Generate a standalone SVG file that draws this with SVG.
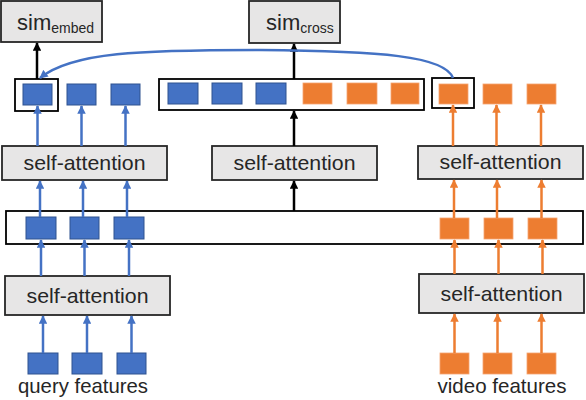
<svg xmlns="http://www.w3.org/2000/svg" width="586" height="400" viewBox="0 0 586 400">
<defs>
<style>
.gbox{fill:#E7E6E6;stroke:#262626;stroke-width:1.8}
.wbox{fill:#FFFFFF;stroke:#000000;stroke-width:1.8}
.bsq{fill:#4472C4;stroke:#2F528F;stroke-width:1}
.osq{fill:#ED7D31;stroke:#F4A470;stroke-width:0.8}
.lbl{font-family:"Liberation Sans",Arial,sans-serif;fill:#262626}
.bl{stroke:#4472C4;stroke-width:2.5;fill:none;marker-end:url(#ab)}
.ol{stroke:#ED7D31;stroke-width:2.5;fill:none;marker-end:url(#ao)}
.kl{stroke:#000000;stroke-width:2.5;fill:none;marker-end:url(#ak)}
</style>
<marker id="ab" viewBox="0 0 10 10" refX="9" refY="5" markerWidth="3.4" markerHeight="3.4" orient="auto" markerUnits="strokeWidth"><path d="M0,0 L10,5 L0,10 z" fill="#4472C4"/></marker>
<marker id="ao" viewBox="0 0 10 10" refX="9" refY="5" markerWidth="3.4" markerHeight="3.4" orient="auto" markerUnits="strokeWidth"><path d="M0,0 L10,5 L0,10 z" fill="#ED7D31"/></marker>
<marker id="ak" viewBox="0 0 10 10" refX="9" refY="5" markerWidth="3.4" markerHeight="3.4" orient="auto" markerUnits="strokeWidth"><path d="M0,0 L10,5 L0,10 z" fill="#000000"/></marker>
</defs>
<rect width="586" height="400" fill="#FFFFFF"/>

<g id="sim-embed">
<rect class="gbox" x="1" y="1" width="101" height="41"/>
<text class="lbl" x="17" y="30" font-size="22">sim<tspan font-size="14" dy="3">embed</tspan></text>
</g>
<g id="sim-cross">
<rect class="gbox" x="249" y="1" width="91" height="42"/>
<text class="lbl" x="266" y="30" font-size="22">sim<tspan font-size="14" dy="3">cross</tspan></text>
</g>

<g id="top-query">
<rect class="wbox" x="15" y="79" width="43" height="32"/>
<rect class="bsq" x="23" y="84" width="29" height="21"/>
<rect class="bsq" x="67" y="84" width="29" height="21"/>
<rect class="bsq" x="111" y="84" width="29" height="21"/>
</g>
<g id="top-cross">
<rect class="wbox" x="159" y="79" width="265" height="31"/>
<rect class="bsq" x="168" y="83" width="30" height="21"/>
<rect class="bsq" x="212" y="83" width="30" height="21"/>
<rect class="bsq" x="256" y="83" width="30" height="21"/>
<rect class="osq" x="303" y="83" width="29" height="21"/>
<rect class="osq" x="347" y="83" width="30" height="21"/>
<rect class="osq" x="391" y="83" width="28" height="21"/>
</g>
<g id="top-video">
<rect class="wbox" x="432" y="78" width="42" height="30"/>
<rect class="osq" x="439" y="84" width="29" height="20"/>
<rect class="osq" x="483" y="84" width="29" height="20"/>
<rect class="osq" x="527" y="84" width="29" height="20"/>
</g>

<g id="sa-query-top">
<rect class="gbox" x="2" y="146" width="165" height="34"/>
<text class="lbl" x="84.5" y="170" font-size="21" text-anchor="middle" textLength="122" lengthAdjust="spacingAndGlyphs">self-attention</text>
</g>
<g id="sa-cross">
<rect class="gbox" x="212" y="146" width="165" height="34"/>
<text class="lbl" x="294.5" y="170" font-size="21" text-anchor="middle" textLength="122" lengthAdjust="spacingAndGlyphs">self-attention</text>
</g>
<g id="sa-video-top">
<rect class="gbox" x="418" y="146" width="165" height="33"/>
<text class="lbl" x="500.5" y="169" font-size="21" text-anchor="middle" textLength="122" lengthAdjust="spacingAndGlyphs">self-attention</text>
</g>

<g id="middle-row">
<rect class="wbox" x="6" y="211" width="577" height="33"/>
<rect class="bsq" x="26" y="217" width="30" height="22"/>
<rect class="bsq" x="70" y="217" width="29" height="22"/>
<rect class="bsq" x="114" y="217" width="30" height="22"/>
<rect class="osq" x="440" y="218" width="29" height="21"/>
<rect class="osq" x="484" y="218" width="29" height="21"/>
<rect class="osq" x="528" y="218" width="29" height="21"/>
</g>

<g id="sa-query-bottom">
<rect class="gbox" x="5" y="276" width="165" height="39"/>
<text class="lbl" x="87.5" y="303" font-size="21" text-anchor="middle" textLength="122" lengthAdjust="spacingAndGlyphs">self-attention</text>
</g>
<g id="sa-video-bottom">
<rect class="gbox" x="419" y="274" width="165" height="39"/>
<text class="lbl" x="501.5" y="301" font-size="21" text-anchor="middle" textLength="122" lengthAdjust="spacingAndGlyphs">self-attention</text>
</g>

<g id="query-features">
<rect class="bsq" x="28" y="353" width="30" height="21"/>
<rect class="bsq" x="72" y="353" width="30" height="21"/>
<rect class="bsq" x="117" y="353" width="29" height="21"/>
<text class="lbl" x="83" y="393" font-size="21" text-anchor="middle" textLength="130" lengthAdjust="spacingAndGlyphs">query features</text>
</g>
<g id="video-features">
<rect class="osq" x="440" y="353" width="29" height="21"/>
<rect class="osq" x="483" y="353" width="29" height="21"/>
<rect class="osq" x="527" y="353" width="29" height="21"/>
<text class="lbl" x="502" y="393" font-size="21" text-anchor="middle" textLength="129" lengthAdjust="spacingAndGlyphs">video features</text>
</g>

<g id="connectors">
<line class="bl" x1="43" y1="353" x2="43" y2="316"/>
<line class="bl" x1="87" y1="353" x2="87" y2="316"/>
<line class="bl" x1="131.5" y1="353" x2="131.5" y2="316"/>
<line class="bl" x1="41" y1="276" x2="41" y2="240"/>
<line class="bl" x1="84.5" y1="276" x2="84.5" y2="240"/>
<line class="bl" x1="129" y1="276" x2="129" y2="240"/>
<line class="bl" x1="40" y1="217" x2="40" y2="181"/>
<line class="bl" x1="83" y1="217" x2="83" y2="181"/>
<line class="bl" x1="127" y1="217" x2="127" y2="181"/>
<line class="bl" x1="37.5" y1="146" x2="37.5" y2="106"/>
<line class="bl" x1="81.5" y1="146" x2="81.5" y2="106"/>
<line class="bl" x1="125.5" y1="146" x2="125.5" y2="106"/>
<line class="ol" x1="454.5" y1="353" x2="454.5" y2="314"/>
<line class="ol" x1="497.5" y1="353" x2="497.5" y2="314"/>
<line class="ol" x1="541.5" y1="353" x2="541.5" y2="314"/>
<line class="ol" x1="454.5" y1="274" x2="454.5" y2="240"/>
<line class="ol" x1="498.5" y1="274" x2="498.5" y2="240"/>
<line class="ol" x1="542.5" y1="274" x2="542.5" y2="240"/>
<line class="ol" x1="454" y1="218" x2="454" y2="180"/>
<line class="ol" x1="497" y1="218" x2="497" y2="180"/>
<line class="ol" x1="541.5" y1="218" x2="541.5" y2="180"/>
<line class="ol" x1="453" y1="146" x2="453" y2="105"/>
<line class="ol" x1="496.5" y1="146" x2="496.5" y2="105"/>
<line class="ol" x1="541" y1="146" x2="541" y2="105"/>
<line class="kl" x1="294" y1="211" x2="294" y2="181"/>
<line class="kl" x1="294" y1="146" x2="294" y2="111"/>
<line class="kl" x1="294" y1="79" x2="294" y2="44"/>
<line class="kl" x1="37" y1="79" x2="37" y2="43"/>
<path d="M453,78 C445,56 380,51 260,50 C140,50 72,52 40,78" fill="none" stroke="#4472C4" stroke-width="2.5" marker-end="url(#ab)"/>
</g>
</svg>
